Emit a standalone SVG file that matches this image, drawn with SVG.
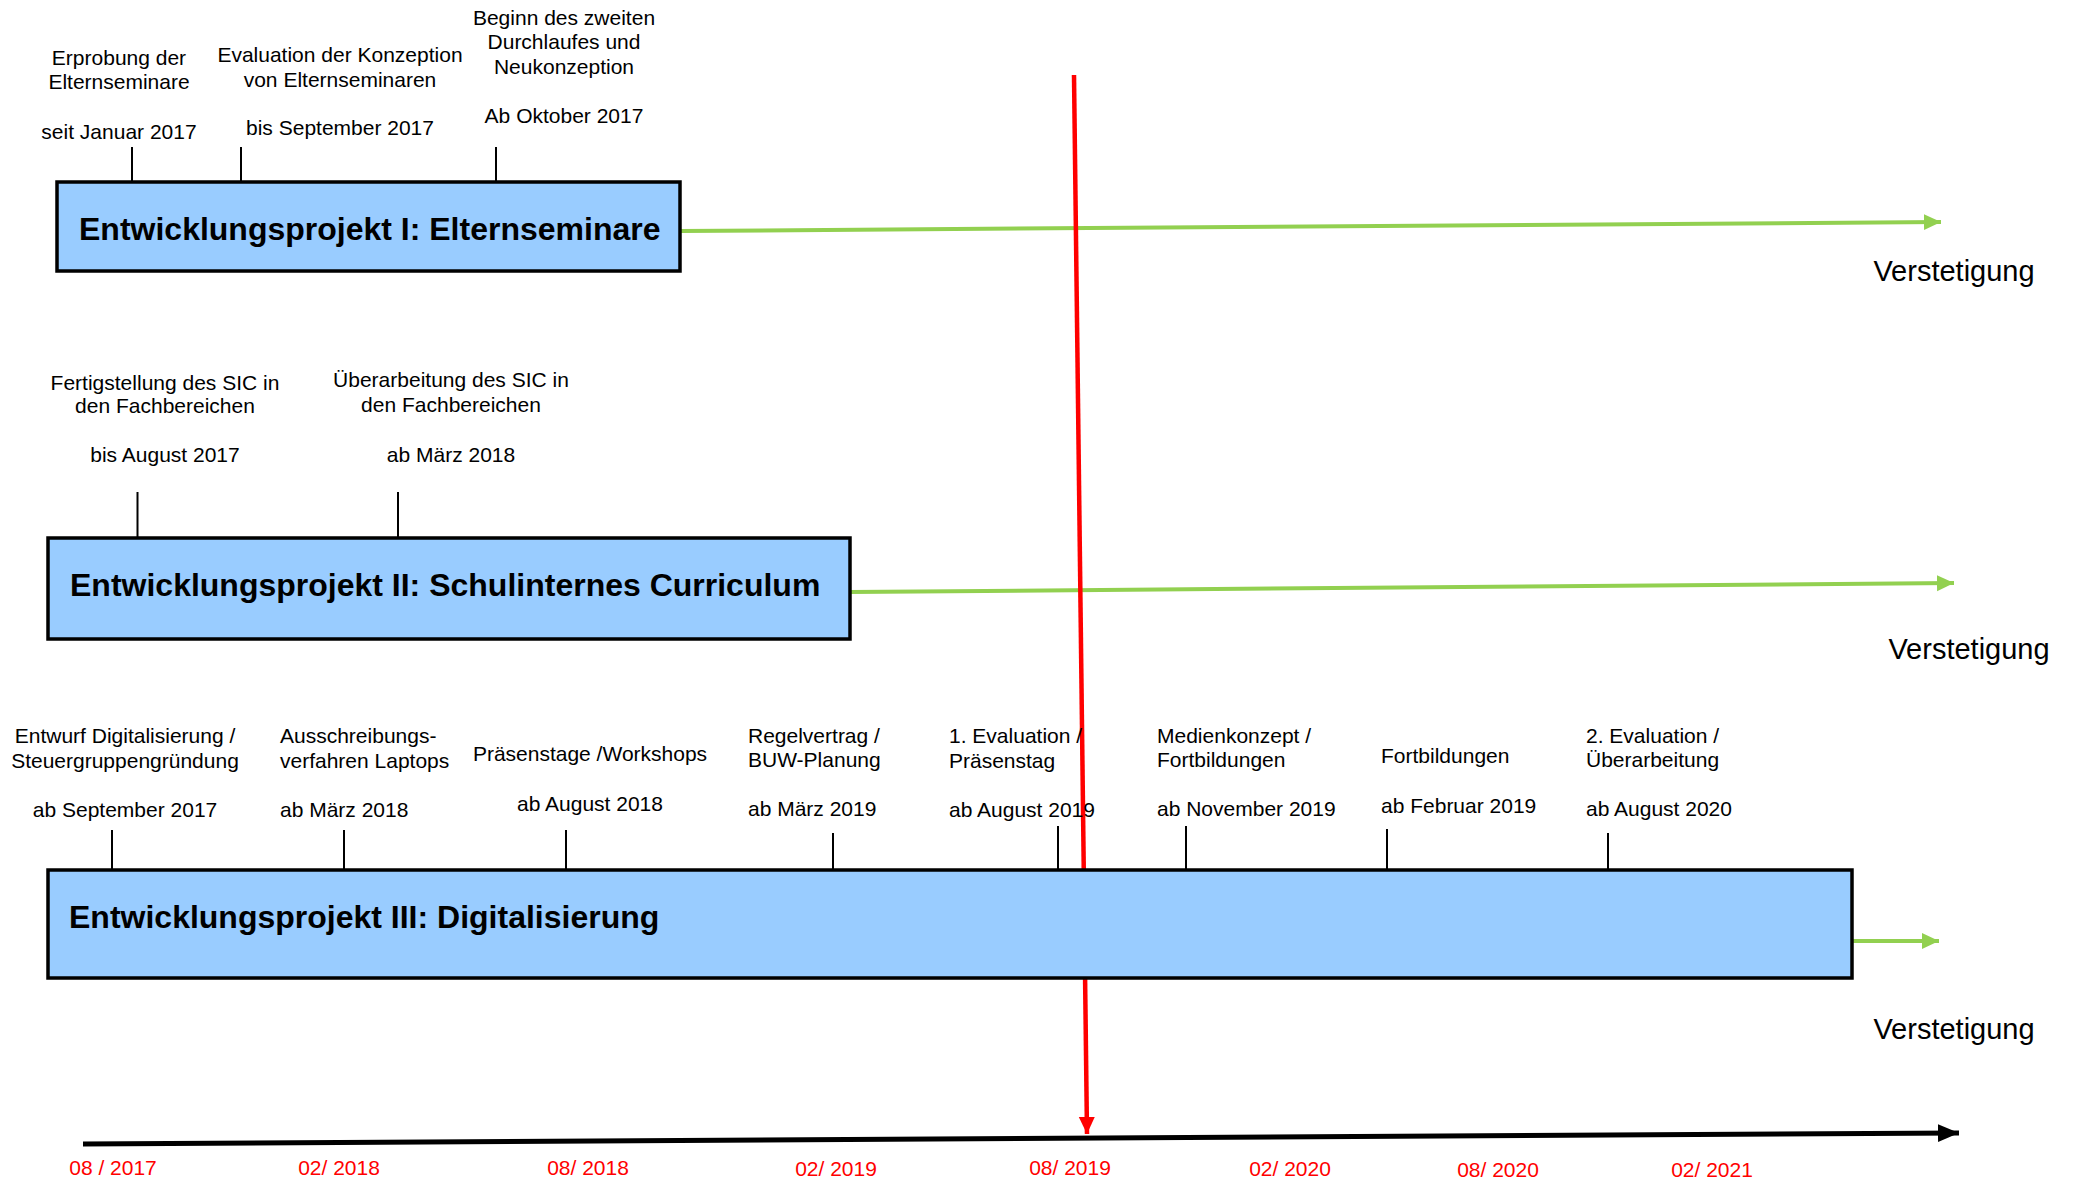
<svg xmlns="http://www.w3.org/2000/svg" width="2073" height="1181" viewBox="0 0 2073 1181">
<defs>
<style>
.box{fill:#99CCFF;stroke:#000;stroke-width:3.5}
.title{font-family:"Liberation Sans",Arial,sans-serif;font-weight:bold;font-size:32px;fill:#000}
.lbl{font-family:"Liberation Sans",Arial,sans-serif;font-size:21px;fill:#000}
.c{text-anchor:middle}
.ver{font-family:"Liberation Sans",Arial,sans-serif;font-size:29px;fill:#000;text-anchor:middle}
.date{font-family:"Liberation Sans",Arial,sans-serif;font-size:21px;fill:#FF0000;text-anchor:middle}
.tick{stroke:#000;stroke-width:2;fill:none}
.green{stroke:#92D050;stroke-width:4;fill:none}
.red{stroke:#FF0000;stroke-width:4.5;fill:none}
.axis{stroke:#000;stroke-width:5;fill:none}
</style>
<marker id="ag" markerUnits="userSpaceOnUse" markerWidth="18" markerHeight="18" viewBox="0 0 18 18" refX="17" refY="9" orient="auto"><path d="M0,1 L17,9 L0,17 Z" fill="#92D050"/></marker>
<marker id="ar" markerUnits="userSpaceOnUse" markerWidth="18" markerHeight="18" viewBox="0 0 18 18" refX="17" refY="9" orient="auto"><path d="M0,1 L17,9 L0,17 Z" fill="#FF0000"/></marker>
<marker id="ab" markerUnits="userSpaceOnUse" markerWidth="22" markerHeight="22" viewBox="0 0 22 22" refX="21" refY="11" orient="auto"><path d="M0,2 L21,11 L0,20 Z" fill="#000"/></marker>
</defs>
<rect width="2073" height="1181" fill="#fff"/>

<g id="connectors">
<line class="green" x1="680" y1="231" x2="1941" y2="222" marker-end="url(#ag)"/>
<line class="green" x1="850" y1="592" x2="1954" y2="583" marker-end="url(#ag)"/>
<line class="green" x1="1852" y1="941" x2="1939" y2="941" marker-end="url(#ag)"/>
<line class="red" x1="1074" y1="75" x2="1087" y2="1134" marker-end="url(#ar)"/>
<line class="axis" x1="83" y1="1144" x2="1959" y2="1133" marker-end="url(#ab)"/>
<g id="ticks">
<line class="tick" x1="132" y1="147" x2="132" y2="182"/>
<line class="tick" x1="241" y1="147" x2="241" y2="182"/>
<line class="tick" x1="496" y1="147" x2="496" y2="182"/>
<line class="tick" x1="137.5" y1="492" x2="137.5" y2="538"/>
<line class="tick" x1="398" y1="492" x2="398" y2="538"/>
<line class="tick" x1="112" y1="830" x2="112" y2="870"/>
<line class="tick" x1="344" y1="830" x2="344" y2="870"/>
<line class="tick" x1="566" y1="830" x2="566" y2="870"/>
<line class="tick" x1="833" y1="833" x2="833" y2="870"/>
<line class="tick" x1="1058" y1="826" x2="1058" y2="870"/>
<line class="tick" x1="1186" y1="826" x2="1186" y2="870"/>
<line class="tick" x1="1387" y1="829" x2="1387" y2="870"/>
<line class="tick" x1="1608" y1="833" x2="1608" y2="870"/>
</g>
</g>

<g id="projekt1">
<rect class="box" x="57" y="182" width="623" height="89"/>
<text class="title" x="79" y="240">Entwicklungsprojekt I: Elternseminare</text>
</g>
<g id="projekt2">
<rect class="box" x="48" y="538" width="802" height="101"/>
<text class="title" x="70" y="596">Entwicklungsprojekt II: Schulinternes Curriculum</text>
</g>
<g id="projekt3">
<rect class="box" x="48" y="870" width="1804" height="108"/>
<text class="title" x="69" y="928">Entwicklungsprojekt III: Digitalisierung</text>
</g>

<g id="labels1">
<text class="lbl c" x="119" y="65">Erprobung der</text>
<text class="lbl c" x="119" y="89">Elternseminare</text>
<text class="lbl c" x="119" y="139">seit Januar 2017</text>
<text class="lbl c" x="340" y="62">Evaluation der Konzeption</text>
<text class="lbl c" x="340" y="87">von Elternseminaren</text>
<text class="lbl c" x="340" y="135">bis September 2017</text>
<text class="lbl c" x="564" y="25">Beginn des zweiten</text>
<text class="lbl c" x="564" y="49">Durchlaufes und</text>
<text class="lbl c" x="564" y="74">Neukonzeption</text>
<text class="lbl c" x="564" y="123">Ab Oktober 2017</text>
</g>
<g id="labels2">
<text class="lbl c" x="165" y="390">Fertigstellung des SIC in</text>
<text class="lbl c" x="165" y="413">den Fachbereichen</text>
<text class="lbl c" x="165" y="462">bis August 2017</text>
<text class="lbl c" x="451" y="387">Überarbeitung des SIC in</text>
<text class="lbl c" x="451" y="412">den Fachbereichen</text>
<text class="lbl c" x="451" y="462">ab März 2018</text>
</g>
<g id="labels3">
<text class="lbl c" x="125" y="743">Entwurf Digitalisierung /</text>
<text class="lbl c" x="125" y="768">Steuergruppengründung</text>
<text class="lbl c" x="125" y="817">ab September 2017</text>
<text class="lbl" x="280" y="743">Ausschreibungs-</text>
<text class="lbl" x="280" y="768">verfahren Laptops</text>
<text class="lbl" x="280" y="817">ab März 2018</text>
<text class="lbl c" x="590" y="761">Präsenstage /Workshops</text>
<text class="lbl c" x="590" y="811">ab August 2018</text>
<text class="lbl" x="748" y="743">Regelvertrag /</text>
<text class="lbl" x="748" y="767">BUW-Planung</text>
<text class="lbl" x="748" y="816">ab März 2019</text>
<text class="lbl" x="949" y="743">1. Evaluation /</text>
<text class="lbl" x="949" y="768">Präsenstag</text>
<text class="lbl" x="949" y="817">ab August 2019</text>
<text class="lbl" x="1157" y="743">Medienkonzept /</text>
<text class="lbl" x="1157" y="767">Fortbildungen</text>
<text class="lbl" x="1157" y="816">ab November 2019</text>
<text class="lbl" x="1381" y="763">Fortbildungen</text>
<text class="lbl" x="1381" y="813">ab Februar 2019</text>
<text class="lbl" x="1586" y="743">2. Evaluation /</text>
<text class="lbl" x="1586" y="767">Überarbeitung</text>
<text class="lbl" x="1586" y="816">ab August 2020</text>
</g>
<g id="verstetigung">
<text class="ver" x="1954" y="281">Verstetigung</text>
<text class="ver" x="1969" y="659">Verstetigung</text>
<text class="ver" x="1954" y="1039">Verstetigung</text>
</g>
<g id="dates">
<text class="date" x="113" y="1175">08 / 2017</text>
<text class="date" x="339" y="1175">02/ 2018</text>
<text class="date" x="588" y="1175">08/ 2018</text>
<text class="date" x="836" y="1176">02/ 2019</text>
<text class="date" x="1070" y="1175">08/ 2019</text>
<text class="date" x="1290" y="1176">02/ 2020</text>
<text class="date" x="1498" y="1177">08/ 2020</text>
<text class="date" x="1712" y="1177">02/ 2021</text>
</g>
</svg>
